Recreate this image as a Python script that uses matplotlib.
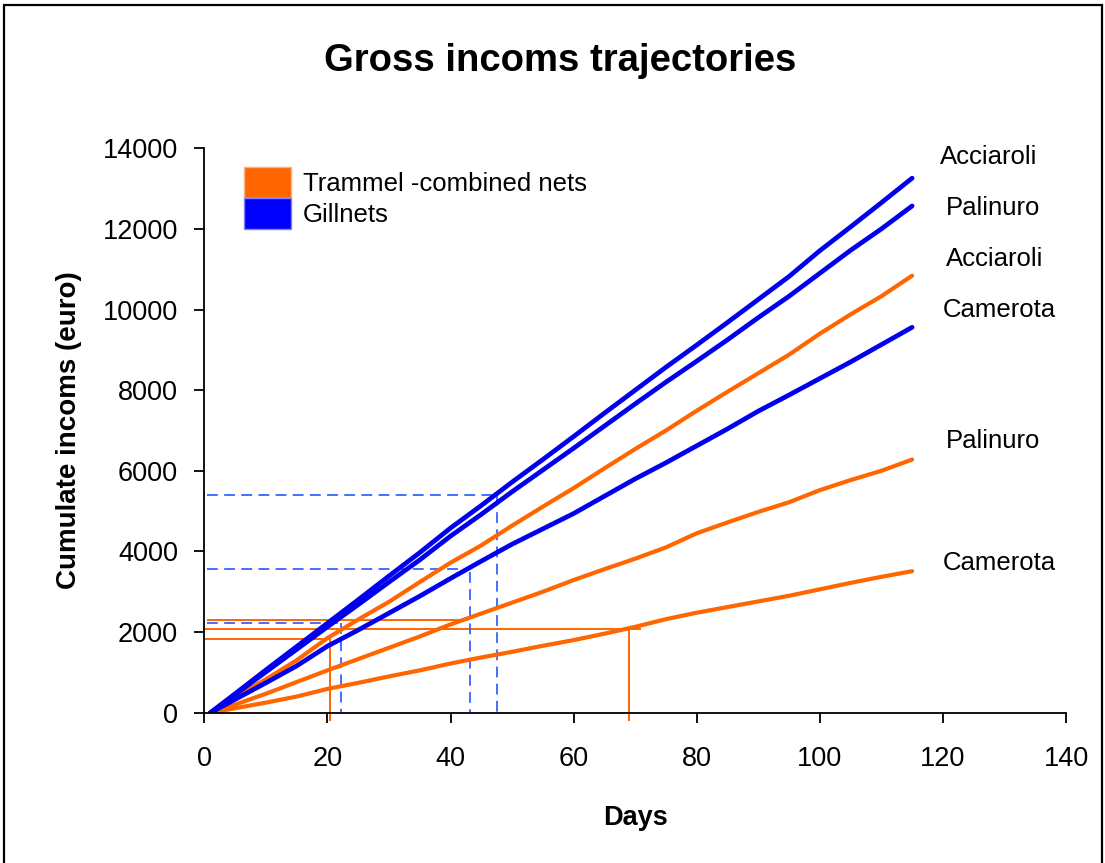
import numpy as np
import matplotlib
matplotlib.use("Agg")
import matplotlib.pyplot as plt
from matplotlib.patches import Patch, Rectangle

plt.rcParams['font.family'] = ['Liberation Sans', 'DejaVu Sans']

# --- data ---
days = [1, 5, 10, 15, 20, 25, 30, 35, 40, 45, 50, 55, 60, 65, 70, 75,
        80, 85, 90, 95, 100, 105, 110, 115]

gill_acciaroli = [0, 470, 1060, 1640, 2220, 2800, 3390, 3970, 4580, 5140, 5720, 6280,
                  6850, 7430, 8000, 8570, 9120, 9680, 10250, 10820, 11460, 12050, 12650, 13260]
gill_palinuro = [0, 450, 1010, 1570, 2130, 2680, 3240, 3790, 4380, 4920, 5480, 6020,
                 6560, 7110, 7660, 8200, 8720, 9250, 9800, 10330, 10900, 11470, 12000, 12570]
gill_camerota = [0, 330, 740, 1160, 1650, 2050, 2470, 2890, 3330, 3760, 4180, 4560,
                 4940, 5370, 5800, 6200, 6620, 7040, 7480, 7880, 8290, 8700, 9130, 9560]
tram_acciaroli = [0, 380, 830, 1300, 1850, 2310, 2750, 3240, 3720, 4150, 4640, 5110,
                  5570, 6060, 6540, 7000, 7490, 7960, 8420, 8880, 9400, 9880, 10330, 10840]
tram_palinuro = [0, 200, 470, 760, 1050, 1330, 1610, 1890, 2190, 2460, 2730, 3000,
                 3290, 3560, 3820, 4100, 4450, 4720, 4980, 5220, 5520, 5770, 6000, 6280]
tram_camerota = [0, 110, 250, 400, 590, 740, 900, 1050, 1220, 1370, 1510, 1660,
                 1800, 1960, 2130, 2320, 2480, 2620, 2760, 2900, 3060, 3220, 3370, 3510]

# reference lines (start day, end day, value) and drops (day, value)
tram_hlines = [(0.55, 42.6, 2300), (0.2, 70.8, 2067), (0.2, 20.4, 1819)]
tram_vlines = [(20.4, 1819), (69.0, 2067)]
gill_hlines = [(0.5, 47.5, 5395), (0.5, 43.1, 3569), (0.5, 22.2, 2230)]
gill_vlines = [(47.5, 5395), (43.2, 3480), (22.2, 2230)]

site_labels = ["Acciaroli", "Palinuro", "Acciaroli", "Camerota", "Palinuro", "Camerota"]
label_y = [13780, 12520, 11250, 9990, 6740, 3710]
label_x = [119.5, 120.5, 120.5, 120.0, 120.5, 120.0]

orange = '#FF6600'
blue = '#0000EE'
dash_blue = '#3366FF'

fig = plt.figure(figsize=(11.05, 8.63), dpi=100)
ax = fig.add_axes([204.3 / 1105, 1 - 712.7 / 863, 861.7 / 1105, 564.4 / 863])

# reference lines first, curves on top
for x0, x1, v in tram_hlines:
    ax.plot([x0, x1], [v, v], color=orange, lw=1.4, clip_on=False)
for x, v in tram_vlines:
    ax.plot([x, x], [v, -180], color=orange, lw=1.4, clip_on=False)
for x0, x1, v in gill_hlines:
    ax.plot([x0, x1], [v, v], color=dash_blue, lw=1.3, ls=(0, (6, 3.5)))
for x, v in gill_vlines:
    ax.plot([x, x], [v, 0], color=dash_blue, lw=1.3, ls=(0, (6, 3.5)))

for s in [tram_camerota, tram_palinuro, tram_acciaroli]:
    ax.plot(days, s, color=orange, lw=3.0, solid_capstyle='round')
for s in [gill_camerota, gill_palinuro, gill_acciaroli]:
    ax.plot(days, s, color=blue, lw=3.4, solid_capstyle='round')

for name, x, y in zip(site_labels, label_x, label_y):
    ax.text(x, y, name, fontsize=18.5, ha='left', va='center')

ax.set_xlim(0, 140)
ax.set_ylim(0, 14000)
ax.set_xticks(np.arange(0, 141, 20))
ax.set_yticks(np.arange(0, 14001, 2000))
ax.tick_params(axis='both', direction='out', length=7, width=1.3, labelsize=19.5)
ax.tick_params(axis='x', pad=17)
ax.tick_params(axis='y', pad=12)
for side in ['top', 'right']:
    ax.spines[side].set_visible(False)
for side in ['left', 'bottom']:
    ax.spines[side].set_linewidth(1.3)

ax.set_xlabel("Days", fontsize=19.5, fontweight='bold', labelpad=24)
ax.set_ylabel("Cumulate incoms (euro)", fontsize=20, fontweight='bold', labelpad=15)
fig.text(560 / 1105, 1 - 61 / 863, "Gross incoms trajectories", fontsize=27.5,
         fontweight='bold', ha='center', va='center')

handles = [Patch(facecolor=orange, edgecolor='#FFB080', lw=1),
           Patch(facecolor='#0000FF', edgecolor='#8080FF', lw=1)]
ax.legend(handles, ["Trammel -combined nets", "Gillnets"], loc='upper left',
          bbox_to_anchor=(0.046, 0.966), frameon=False, fontsize=18.5,
          borderpad=0, borderaxespad=0, handlelength=1.85, handleheight=1.45,
          labelspacing=0.0, handletextpad=0.45)

fig.patches.append(Rectangle((4 / 1105, -0.02), 1098 / 1105, 1 - 5 / 863 + 0.02,
                             transform=fig.transFigure, fill=False,
                             edgecolor='black', lw=1.6))

fig.savefig("out.png", dpi=100)
